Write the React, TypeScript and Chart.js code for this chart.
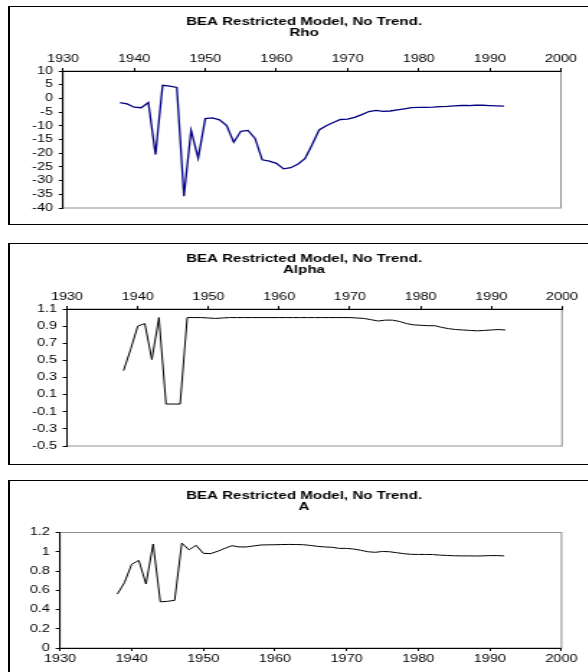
import React, { useEffect, useRef } from "react";
import { Chart, registerables } from "chart.js";

Chart.register(...registerables);

// ---------------- data ----------------
const years = [
  1938, 1939, 1940, 1941, 1942, 1943, 1944, 1945, 1946, 1947,
  1948, 1949, 1950, 1951, 1952, 1953, 1954, 1955, 1956, 1957,
  1958, 1959, 1960, 1961, 1962, 1963, 1964, 1965, 1966, 1967,
  1968, 1969, 1970, 1971, 1972, 1973, 1974, 1975, 1976, 1977,
  1978, 1979, 1980, 1981, 1982, 1983, 1984, 1985, 1986, 1987,
  1988, 1989, 1990, 1991, 1992,
];

const rhoValues = [
  -1.5, -2.0, -3.2, -3.4, -1.5, -20.5, 4.8, 4.5, 4.0, -35.7,
  -11.7, -21.8, -7.4, -7.1, -7.8, -9.9, -16.0, -12.0, -11.7, -14.6,
  -22.4, -22.9, -23.7, -25.7, -25.3, -24.0, -22.0, -17.0, -11.5, -10.0,
  -8.8, -7.7, -7.6, -6.9, -5.9, -4.8, -4.4, -4.7, -4.6, -4.2,
  -3.8, -3.4, -3.3, -3.3, -3.2, -3.0, -2.9, -2.7, -2.6, -2.6,
  -2.5, -2.5, -2.6, -2.7, -2.8,
];

const alphaValues = [
  0.38, 0.63, 0.9, 0.93, 0.51, 1.0, -0.01, -0.01, -0.01, 1.0,
  1.0, 1.0, 0.995, 0.99, 0.995, 1.0, 1.0, 1.0, 1.0, 1.0,
  1.0, 1.0, 1.0, 1.0, 1.0, 1.0, 1.0, 1.0, 1.0, 1.0,
  1.0, 1.0, 1.0, 0.995, 0.99, 0.975, 0.96, 0.97, 0.97, 0.955,
  0.93, 0.915, 0.91, 0.905, 0.905, 0.885, 0.87, 0.86, 0.855, 0.85,
  0.845, 0.85, 0.855, 0.86, 0.855,
];

const aValues = [
  0.56, 0.68, 0.87, 0.91, 0.665, 1.08, 0.48, 0.485, 0.495, 1.09,
  1.02, 1.067, 0.984, 0.98, 1.005, 1.035, 1.063, 1.05, 1.05, 1.06,
  1.07, 1.072, 1.073, 1.075, 1.076, 1.075, 1.073, 1.065, 1.056, 1.05,
  1.046, 1.035, 1.035, 1.028, 1.015, 1.0, 0.994, 1.003, 1.0, 0.99,
  0.98, 0.973, 0.972, 0.972, 0.971, 0.965, 0.962, 0.958, 0.957, 0.957,
  0.956, 0.957, 0.96, 0.96, 0.957,
];

const titleMain = "BEA Restricted Model, No Trend.";
const subTitles = ["Rho", "Alpha", "A"];
const xRange = [1930, 2000];
const xStep = 10;
const rhoRange = [-40, 10];
const rhoStep = 5;
const alphaRange = [-0.5, 1.1];
const alphaStep = 0.2;
const aRange = [0, 1.2];
const aStep = 0.2;

// ---------------- layout ----------------
const S = 1.44; // horizontal stretch of the original picture
const INNER_W = 588 / S;
const FONT = "'Liberation Sans', Arial, sans-serif";
const TITLE_SIZE = 10.5;
const TITLE_LH = 1.05;
const TITLE_LINE = TITLE_SIZE * TITLE_LH;
const TITLE_CENTER = 304; // page x of the title centre

type PanelProps = {
  top: number;
  height: number;
  sub: string;
  values: number[];
  color: string;
  lineWidth: number;
  yRange: number[];
  yStep: number;
  xPos: "top" | "bottom";
  titleY: number; // centre of first title line (canvas coords)
  plot: { left: number; right: number; top: number; bottom: number }; // page x, canvas y
};

const fmt = (v: number) => String(parseFloat(Number(v).toFixed(2)));

const plotFrame = {
  id: "plotFrame",
  afterLayout(chart: any) {
    const t = chart.titleBlock;
    if (t) {
      const c = TITLE_CENTER / S;
      const half = (t.right - t.left) / 2;
      t.left = c - half;
      t.right = c + half;
    }
  },
  beforeDraw(chart: any) {
    const { ctx, chartArea: a } = chart;
    ctx.save();
    ctx.strokeStyle = "#8f8f8f";
    ctx.lineWidth = 1;
    ctx.strokeRect(a.left, a.top, a.right - a.left, a.bottom - a.top);
    ctx.restore();
  },
};

function Panel(p: PanelProps) {
  const ref = useRef<HTMLCanvasElement | null>(null);
  useEffect(() => {
    if (!ref.current) return;
    const leftIn = p.plot.left / S;
    const rightIn = p.plot.right / S;
    const padR = INNER_W - rightIn;
    const padTop = p.titleY - TITLE_LINE / 2;
    const titleH = 2 * TITLE_LINE;
    const xAxisH = 16;
    let padBottom: number;
    let titlePadBottom = 0;
    let xH: number;
    if (p.xPos === "top") {
      xH = p.plot.top - padTop - titleH;
      padBottom = p.height - p.plot.bottom;
    } else {
      xH = xAxisH;
      titlePadBottom = p.plot.top - padTop - titleH;
      padBottom = p.height - p.plot.bottom - xAxisH;
    }
    const tickFont = { family: FONT, size: 10 };
    const chart = new Chart(ref.current, {
      type: "line",
      data: {
        datasets: [
          {
            data: years.map((x, i) => ({ x, y: p.values[i] })),
            borderColor: p.color,
            borderWidth: p.lineWidth,
            pointRadius: 0,
            tension: 0,
            fill: false,
          },
        ],
      },
      options: {
        animation: false,
        responsive: true,
        maintainAspectRatio: false,
        layout: { padding: { left: 0, right: padR, top: padTop, bottom: padBottom } },
        plugins: {
          legend: { display: false },
          tooltip: { enabled: false },
          title: {
            display: true,
            text: [titleMain, p.sub],
            color: "#000",
            font: { family: FONT, size: TITLE_SIZE, weight: "bold", lineHeight: TITLE_LH },
            padding: { top: 0, bottom: titlePadBottom },
          },
        },
        scales: {
          x: {
            type: "linear",
            position: p.xPos,
            min: xRange[0],
            max: xRange[1],
            ticks: {
              stepSize: xStep,
              callback: (v: any) => String(v),
              font: tickFont,
              color: "#000",
              padding: p.xPos === "top" ? 3 : 2,
              maxRotation: 0,
              autoSkip: false,
            },
            grid: { display: true, drawOnChartArea: false, drawTicks: true, tickLength: 3, color: "#000" },
            border: { display: true, color: "#000", width: 1 },
            afterFit: (s: any) => {
              s.height = xH;
            },
          },
          y: {
            type: "linear",
            min: p.yRange[0],
            max: p.yRange[1],
            ticks: {
              stepSize: p.yStep,
              callback: (v: any) => fmt(v),
              font: tickFont,
              color: "#000",
              padding: 4,
              autoSkip: false,
            },
            grid: { display: true, drawOnChartArea: false, drawTicks: true, tickLength: 3, color: "#000" },
            border: { display: true, color: "#000", width: 1 },
            afterFit: (s: any) => {
              s.width = leftIn;
            },
          },
        },
      },
      plugins: [plotFrame],
    } as any);
    return () => chart.destroy();
  }, []);
  return (
    <div
      style={{
        position: "absolute",
        left: 0,
        top: p.top,
        width: INNER_W,
        height: p.height,
        transform: `scaleX(${S})`,
        transformOrigin: "0 0",
      }}
    >
      <canvas ref={ref} />
    </div>
  );
}

const frame = (top: number, height: number): React.CSSProperties => ({
  position: "absolute",
  left: 8,
  top,
  width: 620,
  height,
  border: "1px solid #000",
  borderLeftWidth: 2,
  boxSizing: "border-box",
});

export default function App() {
  return (
    <div
      style={{
        position: "fixed",
        left: 0,
        top: 0,
        width: 588,
        height: 672,
        overflow: "hidden",
        background: "#fff",
      }}
    >
      <div style={frame(6, 219)} />
      <div style={frame(243, 222)} />
      <div style={frame(480, 220)} />
      <Panel
        top={0}
        height={236}
        sub={subTitles[0]}
        values={rhoValues}
        color="#000080"
        lineWidth={1.3}
        yRange={rhoRange}
        yStep={rhoStep}
        xPos="top"
        titleY={22}
        plot={{ left: 63, right: 561, top: 71, bottom: 208 }}
      />
      <Panel
        top={236}
        height={236}
        sub={subTitles[1]}
        values={alphaValues}
        color="#000000"
        lineWidth={1}
        yRange={alphaRange}
        yStep={alphaStep}
        xPos="top"
        titleY={23}
        plot={{ left: 67, right: 562, top: 73, bottom: 210 }}
      />
      <Panel
        top={472}
        height={200}
        sub={subTitles[2]}
        values={aValues}
        color="#000000"
        lineWidth={1}
        yRange={aRange}
        yStep={aStep}
        xPos="bottom"
        titleY={24}
        plot={{ left: 60, right: 561.5, top: 60.5, bottom: 176 }}
      />
    </div>
  );
}
